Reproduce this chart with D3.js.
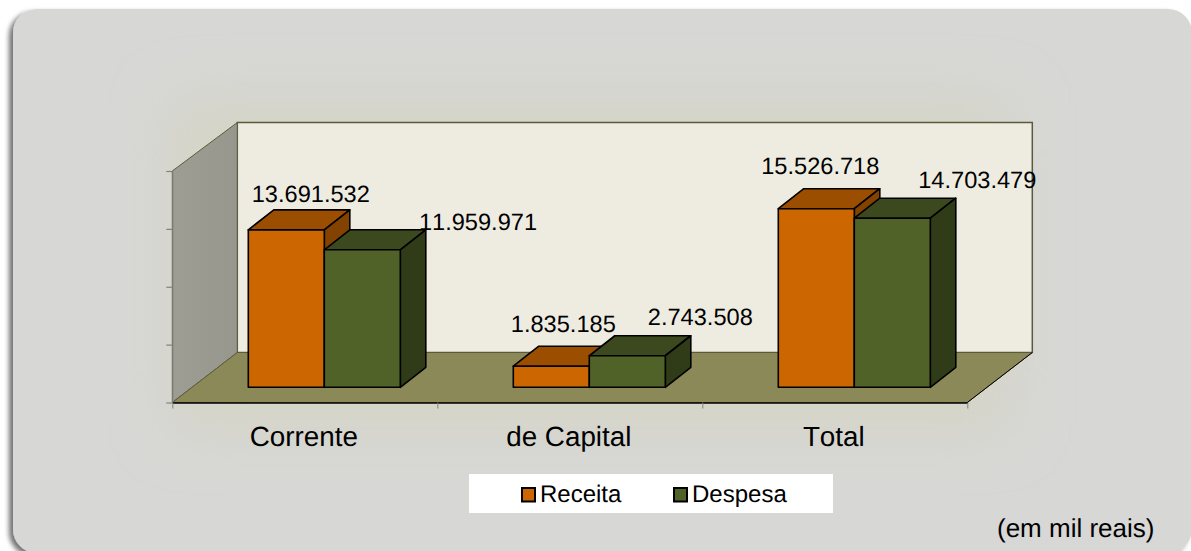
<!DOCTYPE html>
<html>
<head>
<meta charset="utf-8">
<script src="https://d3js.org/d3.v7.min.js"></script>
<style>
html, body { margin: 0; padding: 0; background: #fff; overflow: hidden; }
svg { display: block; }
text { font-family: "Liberation Sans", Arial, sans-serif; fill: #000; text-rendering: geometricPrecision; font-kerning: none; }
</style>
</head>
<body>
<svg id="chart" width="1191" height="551"></svg>
<script>
const categories = ["Corrente", "de Capital", "Total"];
const seriesNames = ["Receita", "Despesa"];
const receita = [13691532, 1835185, 15526718];
const despesa = [11959971, 2743508, 14703479];
const yTicks = [0, 5000000, 10000000, 15000000, 20000000];

// hand placed data labels in the original, offset from the top centre of each bar
const labelNudgeX = [[24.5, 115.7], [12, 73], [4, 85]];
const labelNudgeY = [[-28.3, -20], [-34.5, -31], [-35, -30]];

const faces = [
	{ front: "#cc6600", top: "#9c4e00", side: "#844200" },
	{ front: "#506228", top: "#3c481e", side: "#303c18" }
];

const depthX = 65, depthY = -50;
const barDepthX = 25.5, barDepthY = -20;

const svg = d3.select("#chart");
const defs = svg.append("defs");

const shadow = defs.append("filter").attr("id", "shadow")
	.attr("x", "-5%").attr("y", "-5%").attr("width", "110%").attr("height", "110%");
shadow.append("feGaussianBlur").attr("in", "SourceAlpha").attr("stdDeviation", 2.5).attr("result", "blur");
shadow.append("feOffset").attr("in", "blur").attr("dx", -4).attr("dy", 3).attr("result", "off");
shadow.append("feComponentTransfer").attr("in", "off").attr("result", "soft")
	.append("feFuncA").attr("type", "linear").attr("slope", 0.55);
const merge = shadow.append("feMerge");
merge.append("feMergeNode").attr("in", "soft");
merge.append("feMergeNode").attr("in", "SourceGraphic");

const glow = defs.append("filter").attr("id", "glow")
	.attr("x", "-20%").attr("y", "-30%").attr("width", "140%").attr("height", "160%");
glow.append("feGaussianBlur").attr("stdDeviation", 30);

const wallFill = defs.append("linearGradient").attr("id", "wallFill")
	.attr("x1", 0).attr("x2", 1).attr("y1", 0).attr("y2", 0);
wallFill.append("stop").attr("offset", 0).attr("stop-color", "#9d9d93");
wallFill.append("stop").attr("offset", 1).attr("stop-color", "#97978d");

// panel behind the chart, runs off the right and bottom of the picture
svg.append("rect")
	.attr("x", 13).attr("y", 9).attr("width", 1179).attr("height", 544).attr("rx", 24)
	.attr("fill", "#d7d7d5")
	.attr("filter", "url(#shadow)");
svg.append("rect")
	.attr("x", 175).attr("y", 105).attr("width", 830).attr("height", 320)
	.attr("fill", "#d4d4c4")
	.attr("filter", "url(#glow)");

const xEdges = d3.scaleLinear().domain([0, categories.length]).range([172.3, 967.3]);
const x = d3.scaleBand().domain(categories).range([172.3, 967.3]);
const xBar = d3.scaleBand().domain(seriesNames).range([76, 228]);
const y = d3.scaleLinear().domain([0, 20000000]).range([402.5, 171]);
const yBar = d3.scaleLinear().domain([0, 20000000]).range([387.3, 157.3]);

const fmt = d3.formatLocale({ decimal: ",", thousands: ".", grouping: [3], currency: ["R$", ""] }).format(",d");
const pts = a => a.map(p => p.join(",")).join(" ");

const x0 = x.range()[0], x1 = x.range()[1], yBase = y(0), yTop = y(20000000);
const backTop = yTop + depthY + 1.5;

// walls and floor
svg.append("polygon")
	.attr("points", pts([[x0 + depthX, backTop], [x1 + depthX, backTop], [x1 + depthX, yBase + depthY], [x0 + depthX, yBase + depthY]]))
	.attr("fill", "#eeece1").attr("stroke", "#5c5a3c").attr("stroke-width", 1.5);
svg.append("polygon")
	.attr("points", pts([[x0, yTop], [x0 + depthX, backTop], [x0 + depthX, yBase + depthY], [x0, yBase]]))
	.attr("fill", "url(#wallFill)").attr("stroke", "#5c5a3c").attr("stroke-width", 1);
svg.append("polygon")
	.attr("points", pts([[x0, yBase], [x1, yBase], [x1 + depthX, yBase + depthY], [x0 + depthX, yBase + depthY]]))
	.attr("fill", "#8b8958").attr("stroke", "#5c5a3c").attr("stroke-width", 1);

// axes
const yAxis = svg.append("g")
	.attr("transform", `translate(${x0},0)`)
	.call(d3.axisLeft(y).tickValues(yTicks).tickSize(6).tickSizeOuter(0).tickFormat(""));
yAxis.selectAll("path, line").attr("stroke", "#808080").attr("stroke-width", 1.2);

const xAxis = svg.append("g")
	.attr("transform", `translate(0,${yBase})`)
	.call(d3.axisBottom(xEdges).ticks(categories.length).tickSize(6).tickSizeOuter(0).tickFormat(""));
xAxis.selectAll("line").attr("stroke", "#808080");
xAxis.select("path").attr("stroke", "#000").attr("stroke-width", 1.5);
// the floor's right edge is black too
svg.append("line")
	.attr("x1", x1).attr("y1", yBase).attr("x2", x1 + depthX).attr("y2", yBase + depthY)
	.attr("stroke", "#000").attr("stroke-width", 1);

svg.append("g").selectAll("text").data(categories).join("text")
	.attr("x", d => x(d) + x.bandwidth() / 2 - 1)
	.attr("y", 445.5)
	.attr("text-anchor", "middle")
	.style("font-size", "27.8px")
	.text(d => d);

// bars, one series over the other so the green top hides the orange side
const rows = [receita, despesa];
const barsLayer = svg.append("g");
categories.forEach((cat, c) => {
	rows.forEach((values, s) => {
		const left = x(cat) + xBar(seriesNames[s]);
		const right = left + xBar.bandwidth();
		const bottom = yBar(0);
		const top = yBar(values[c]);
		const g = barsLayer.append("g").attr("stroke", "#000").attr("stroke-width", 1.6).attr("stroke-linejoin", "round");
		g.append("polygon")
			.attr("points", pts([[left, top], [right, top], [right + barDepthX, top + barDepthY], [left + barDepthX, top + barDepthY]]))
			.attr("fill", faces[s].top);
		g.append("polygon")
			.attr("points", pts([[right, top], [right + barDepthX, top + barDepthY], [right + barDepthX, bottom + barDepthY], [right, bottom]]))
			.attr("fill", faces[s].side);
		g.append("rect")
			.attr("x", left).attr("y", top)
			.attr("width", right - left).attr("height", bottom - top)
			.attr("fill", faces[s].front);
	});
});

// value labels
categories.forEach((cat, c) => {
	rows.forEach((values, s) => {
		svg.append("text")
			.attr("x", x(cat) + xBar(seriesNames[s]) + xBar.bandwidth() / 2 + labelNudgeX[c][s])
			.attr("y", yBar(values[c]) + labelNudgeY[c][s])
			.attr("text-anchor", "middle")
			.style("font-size", "23.6px")
			.text(fmt(values[c]));
	});
});

// legend
svg.append("rect")
	.attr("x", 469).attr("y", 474).attr("width", 364).attr("height", 39)
	.attr("fill", "#fff");
const legendX = d3.scalePoint().domain(seriesNames).range([522, 674]);
seriesNames.forEach((name, s) => {
	svg.append("rect")
		.attr("x", legendX(name)).attr("y", 488)
		.attr("width", 13).attr("height", 13.5)
		.attr("fill", faces[s].front)
		.attr("stroke", "#000").attr("stroke-width", 2);
	svg.append("text")
		.attr("x", legendX(name) + 18).attr("y", 502)
		.style("font-size", "24px")
		.text(name);
});

svg.append("text")
	.attr("x", 997).attr("y", 536.5)
	.style("font-size", "26px")
	.text("(em mil reais)");
</script>
</body>
</html>
